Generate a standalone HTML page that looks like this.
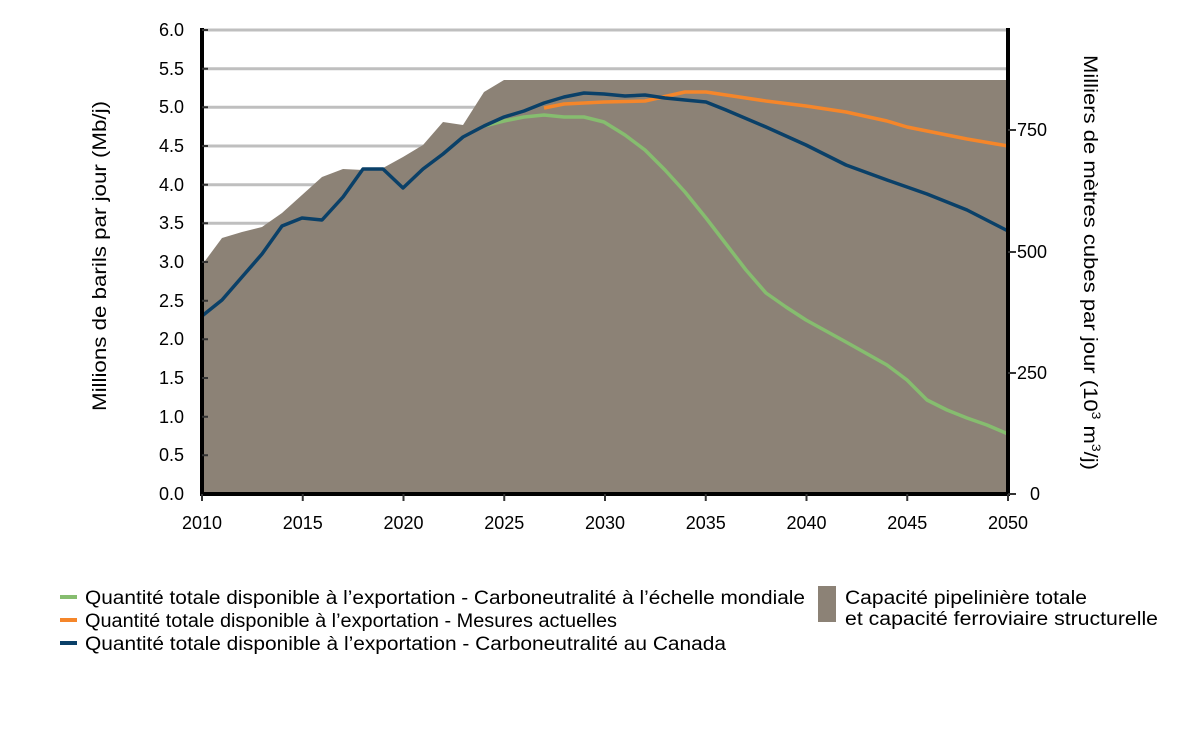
<!DOCTYPE html>
<html><head><meta charset="utf-8"><style>body{margin:0;background:#fff}svg{display:block}text{font-family:"Liberation Sans",sans-serif;fill:#000}</style></head><body>
<svg width="1200" height="750" viewBox="0 0 1200 750">
<g stroke="#bfbfbf" stroke-width="3">
<line x1="202" y1="30" x2="1008" y2="30"/><line x1="202" y1="68.7" x2="1008" y2="68.7"/><line x1="202" y1="107.3" x2="1008" y2="107.3"/><line x1="202" y1="146" x2="1008" y2="146"/><line x1="202" y1="184.7" x2="1008" y2="184.7"/><line x1="202" y1="223.3" x2="1008" y2="223.3"/><line x1="202" y1="262" x2="1008" y2="262"/><line x1="202" y1="300.7" x2="1008" y2="300.7"/>
</g>
<polygon fill="#8c8276" points="202,494 202,265 222,238 242,232 262,227 282,213 302,195 322,177 343,169 363,170 383,168 403,157 423,145 443,122 463,125 484,92 504,80 1008,80 1008,494"/>
<g fill="none" stroke-width="3.5" stroke-linejoin="round">
<polyline stroke="#f5862a" points="544,108 564,104 604,102 645,101 685,92 706,92 726,95 766,101 806,106 846,112 887,121 907,127 927,131 967,139 1008,146"/>
<polyline stroke="#86bd6f" points="484,126 504,121 524,117 544,115 564,117 584,117 604,122 625,135 645,150 665,170 685,192 706,218 726,244 746,270 766,293 786,307 806,320 846,342 887,365 907,380 927,400 947,410 967,418 987,425 1008,434"/>
<polyline stroke="#0a4068" points="202,316 222,300 242,277 262,254 282,226 302,218 322,220 343,197 363,169 383,169 403,188 423,169 443,154 463,137 484,126 504,117 524,111 544,103 564,97 584,93 604,94 625,96 645,95 665,98 685,100 706,102 726,110 766,127 806,145 846,165 887,180 927,194 967,210 1008,231"/>
</g>
<g stroke="#000" stroke-width="4"><line x1="202" y1="28" x2="202" y2="496"/><line x1="1008" y1="28" x2="1008" y2="496"/><line x1="200" y1="494" x2="1010" y2="494"/></g>
<g stroke="#333" stroke-width="2">
<path d="M202 30h6M202 68.7h6M202 107.3h6M202 146h6M202 184.7h6M202 223.3h6M202 262h6M202 300.7h6M202 339.3h6M202 378h6M202 416.7h6M202 455.3h6"/>
<path d="M1008 494h8M1008 373h8M1008 252h8M1008 130h8"/>
<path d="M202 494v7M302.75 494v7M403.5 494v7M504.25 494v7M605 494v7M705.75 494v7M806.5 494v7M907.25 494v7M1008 494v7"/>
</g>
<g font-size="18" text-anchor="end">
<text x="184" y="36">6.0</text><text x="184" y="75">5.5</text><text x="184" y="113">5.0</text><text x="184" y="152">4.5</text><text x="184" y="191">4.0</text><text x="184" y="229">3.5</text><text x="184" y="268">3.0</text><text x="184" y="307">2.5</text><text x="184" y="345">2.0</text><text x="184" y="384">1.5</text><text x="184" y="423">1.0</text><text x="184" y="461">0.5</text><text x="184" y="500">0.0</text>
</g>
<g font-size="18" text-anchor="start"><text x="1030" y="500">0</text><text x="1017" y="379">250</text><text x="1017" y="258">500</text><text x="1017" y="136">750</text></g>
<g font-size="18" text-anchor="middle">
<text x="202" y="529">2010</text><text x="302.75" y="529">2015</text><text x="403.5" y="529">2020</text><text x="504.25" y="529">2025</text><text x="605" y="529">2030</text><text x="705.75" y="529">2035</text><text x="806.5" y="529">2040</text><text x="907.25" y="529">2045</text><text x="1008" y="529">2050</text>
</g>
<text font-size="19" text-anchor="middle" textLength="310" lengthAdjust="spacingAndGlyphs" transform="translate(106,256) rotate(-90)">Millions de barils par jour (Mb/j)</text>
<text font-size="19" transform="translate(1084,55) rotate(90)" textLength="415" lengthAdjust="spacingAndGlyphs">Milliers de mètres cubes par jour (10<tspan font-size="12" dy="-8">3</tspan><tspan dy="8"> m</tspan><tspan font-size="12" dy="-8">3</tspan><tspan dy="8">/j)</tspan></text>
<g stroke-width="4"><line x1="60" y1="597" x2="77" y2="597" stroke="#86bd6f"/><line x1="60" y1="620" x2="77" y2="620" stroke="#f5862a"/><line x1="60" y1="643" x2="77" y2="643" stroke="#0a4068"/></g>
<g font-size="19">
<text x="85" y="604" textLength="720" lengthAdjust="spacingAndGlyphs">Quantité totale disponible à l’exportation - Carboneutralité à l’échelle mondiale</text>
<text x="85" y="627" textLength="532" lengthAdjust="spacingAndGlyphs">Quantité totale disponible à l’exportation - Mesures actuelles</text>
<text x="85" y="650" textLength="641" lengthAdjust="spacingAndGlyphs">Quantité totale disponible à l’exportation - Carboneutralité au Canada</text>
<text x="845" y="604" textLength="242" lengthAdjust="spacingAndGlyphs">Capacité pipelinière totale</text>
<text x="845" y="625" textLength="313" lengthAdjust="spacingAndGlyphs">et capacité ferroviaire structurelle</text></g>
<rect x="818" y="586" width="18" height="36" fill="#8c8276"/>
</svg>
</body></html>
